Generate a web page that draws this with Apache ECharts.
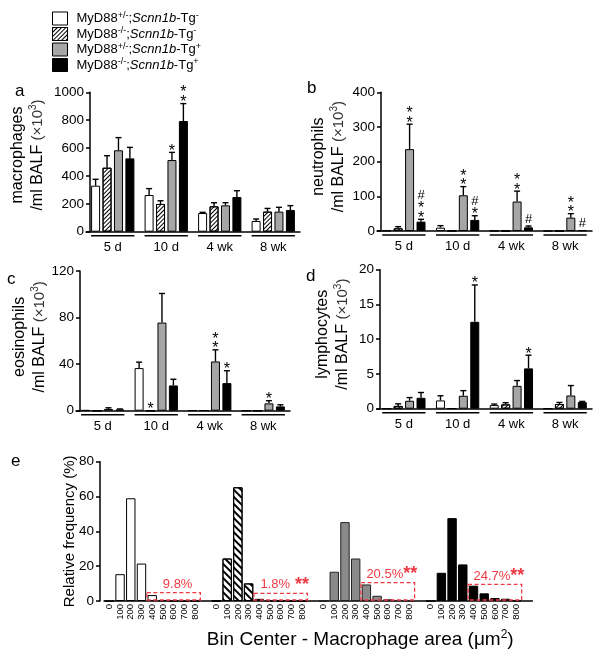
<!DOCTYPE html>
<html><head><meta charset="utf-8">
<script src="https://cdn.jsdelivr.net/npm/echarts@6/dist/echarts.min.js"></script>
<style>html,body{margin:0;padding:0;background:#fff}#c{width:601px;height:656px}</style>
</head><body><div id="c"></div>
<script>
// ---------- data ----------
const genotypes = ['MyD88+/-;Scnn1b-Tg-','MyD88-/-;Scnn1b-Tg-','MyD88+/-;Scnn1b-Tg+','MyD88-/-;Scnn1b-Tg+'];
const timepoints = ['5 d','10 d','4 wk','8 wk'];
// rows = genotype (legend order), columns = timepoint
const macrophagesMean = [[330,263,134,77],[459,199,182,144],[584,514,189,144],[526,794,249,156]];
const macrophagesSem  = [[46,46,5,14],[86,23,26,23],[91,55,19,31],[79,125,45,31]];
const neutrophilsMean = [[1,9.6,0.5,0],[7.7,1,0.5,0],[236,103,85,38.5],[27,32,10.6,2]];
const neutrophilsSem  = [[0,5.8,0,0],[4.8,0,0,0],[72,25,30,11.5],[6.7,12,3.8,0]];
const eosinophilsMean = [[0.5,36.6,0.3,0],[0,0,0.3,0],[1.5,75.7,42.3,6.3],[1,21.7,23.7,3.7]];
const eosinophilsSem  = [[0,5.1,0,0],[0,0,0,0],[1,25,10,2.3],[0.5,5.3,10.6,1.4]];
const lymphocytesMean = [[0,1.19,0.52,0],[0.4,0.05,0.62,0.67],[1.14,1.86,3.29,1.9],[1.57,12.5,5.8,0.95]];
const lymphocytesSem  = [[0,0.67,0.15,0],[0.3,0,0.24,0.23],[0.46,0.74,0.76,1.43],[0.76,5.3,1.9,0.1]];
// significance marks: [timepoint index, genotype index, symbols top-to-bottom]
const macrophagesMarks = [[1,2,'*'],[1,3,'**']];
const neutrophilsMarks = [[0,2,'**'],[0,3,'#**'],[1,2,'**'],[1,3,'#*'],[2,2,'**'],[2,3,'#'],[3,2,'**'],[3,3,'#']];
const eosinophilsMarks = [[1,1,'*'],[2,2,'**'],[2,3,'*'],[3,2,'*']];
const lymphocytesMarks = [[1,3,'*'],[2,3,'*']];
// panel e : relative frequency (%) per bin
const binCenters = ['0','100','200','300','400','500','600','700','800'];
const histMyD88HetTgNeg = [0,15.4,59,21.5,3.4,0.4,0,0,0];
const histMyD88KoTgNeg  = [0,24.4,65.3,10.1,1.2,0.4,0.2,0,0];
const histMyD88HetTgPos = [0,16.8,45.3,24.4,9.5,3.0,1.0,0.4,0.2];
const histMyD88KoTgPos  = [0,16.2,47.6,21,8.8,4.4,1.7,1.3,0.2];
const largeCellPct = ['9.8%','1.8%','20.5%','24.7%'];
const largeCellSig = ['',' **','**','**'];
const largeCellBoxTop = [4.8,4.4,10.5,9.5];

// ---------- styles ----------
const FONT = '"Liberation Sans", Arial, Helvetica, sans-serif';
const RED = '#ee3a43';
const fills = ['#ffffff','#ffffff','#a6a6a6','#000000'];
const fillsE = ['#ffffff','#ffffff','#8a8a8a','#000000'];
const hatchAD = {symbol:'rect', symbolSize:1, dashArrayX:[1,0], dashArrayY:[0.8,1.7], rotation:-Math.PI/4, color:'#000'};
const hatchE  = {symbol:'rect', symbolSize:1, dashArrayX:[1,0], dashArrayY:[1.6,3], rotation:Math.PI/4, color:'#000'};
const BAR_W = 9, BAR_GAP = 0.27, PITCH = BAR_W*(1+BAR_GAP), GROUP_W = 4*BAR_W + 3*BAR_W*BAR_GAP;

const panels = [
  {mean:macrophagesMean, sem:macrophagesSem, marks:macrophagesMarks, max:1000, interval:200, title:'macrophages',
   grid:{left:86, top:92.3, width:214, height:139.4}, offset:-4, nameGap:42, shift:14},
  {mean:neutrophilsMean, sem:neutrophilsSem, marks:neutrophilsMarks, max:400, interval:100, title:'neutrophils',
   grid:{left:377, top:92.3, width:215, height:138.7}, offset:-4, nameGap:32, shift:10},
  {mean:eosinophilsMean, sem:eosinophilsSem, marks:eosinophilsMarks, max:120, interval:40, title:'eosinophils',
   grid:{left:76, top:271, width:214, height:139.7}, offset:-4, nameGap:30, shift:8},
  {mean:lymphocytesMean, sem:lymphocytesSem, marks:lymphocytesMarks, max:20, interval:5, title:'lymphocytes',
   grid:{left:377, top:269.7, width:215, height:139}, offset:-3, nameGap:27, shift:10}
];

const grids = [], xAxes = [], yAxes = [], series = [];
const nameRich = {
  t:{fontSize:16, fontFamily:FONT, color:'#000', lineHeight:20},
  x:{fontSize:15, fontFamily:FONT, color:'#333', lineHeight:20},
  sx:{fontSize:10, fontFamily:FONT, color:'#333', lineHeight:20, verticalAlign:'top', padding:[0,0,8,0]}
};

panels.forEach((P, p) => {
  grids.push(Object.assign({containLabel:false, outerBoundsMode:'none'}, P.grid));
  xAxes.push({gridIndex:p, type:'category', data:timepoints,
    axisTick:{show:false}, axisLine:{lineStyle:{color:'#000', width:1.5}},
    axisLabel:{fontSize:13, color:'#000', margin:9, fontFamily:FONT, interval:0}});
  yAxes.push({gridIndex:p, type:'value', min:0, max:P.max, interval:P.interval, offset:P.offset,
    axisLine:{show:true, lineStyle:{color:'#000', width:1.5}},
    axisTick:{show:true, length:4, lineStyle:{color:'#000', width:1.5}},
    splitLine:{show:false},
    axisLabel:{fontSize:13.5, color:'#000', margin:6, fontFamily:FONT, formatter:v => String(v)},
    name:'{t|' + P.title + '}\n{t|/ml BALF }{x|(×10}{sx|3}{x|)}',
    nameLocation:'middle', nameRotate:90, nameGap:P.nameGap, nameMoveOverlap:false,
    nameTextStyle:{rich:nameRich, padding:[0,0,0,P.shift]}});
  for (let s = 0; s < 4; s++) {
    const st = {color:fills[s], borderColor:'#000', borderWidth:1};
    if (s === 1) st.decal = hatchAD;
    series.push({name:genotypes[s], type:'bar', xAxisIndex:p, yAxisIndex:p, data:P.mean[s],
      barWidth:BAR_W, barGap:(BAR_GAP*100)+'%', itemStyle:st, emphasis:{disabled:true}, z:2});
  }
  // error bars
  const errData = [];
  for (let s = 0; s < 4; s++) for (let g = 0; g < 4; g++) errData.push([g, P.mean[s][g], P.sem[s][g], s]);
  series.push({type:'custom', xAxisIndex:p, yAxisIndex:p, data:errData, z:3, silent:true,
    renderItem:(params, api) => {
      const g = api.value(0), m = api.value(1), e = api.value(2), s = api.value(3);
      if (!(e > 0)) return {type:'group', children:[]};
      const b = api.coord([g, m]), t = api.coord([g, m + e]);
      const x = b[0] + (s - 1.5) * PITCH;
      return {type:'group', children:[
        {type:'line', shape:{x1:x, y1:b[1], x2:x, y2:t[1]}, style:{stroke:'#000', lineWidth:1.4}},
        {type:'line', shape:{x1:x-3, y1:t[1], x2:x+3, y2:t[1]}, style:{stroke:'#000', lineWidth:1.4}}]};
    }});
  // group underlines
  series.push({type:'custom', xAxisIndex:p, yAxisIndex:p, data:timepoints.map((t, i) => [i, 0]), z:3, silent:true,
    renderItem:(params, api) => {
      const c = api.coord([api.value(0), 0]);
      return {type:'line', shape:{x1:c[0]-GROUP_W/2, y1:c[1]+4, x2:c[0]+GROUP_W/2, y2:c[1]+4},
        style:{stroke:'#000', lineWidth:1.5}};
    }});
  // significance marks
  const markData = P.marks.map(m => [m[0], P.mean[m[1]][m[0]] + P.sem[m[1]][m[0]], m[1]]);
  series.push({type:'custom', xAxisIndex:p, yAxisIndex:p, data:markData, z:4, silent:true,
    renderItem:(params, api) => {
      const g = api.value(0), v = api.value(1), s = api.value(2);
      const sym = P.marks[params.dataIndex][2];
      const c = api.coord([g, v]);
      const x = c[0] + (s - 1.5) * PITCH;
      const kids = [];
      let y = c[1] - 5;
      for (let k = sym.length - 1; k >= 0; k--) {
        const ch = sym[k];
        const isStar = ch === '*';
        if (!isStar && k === sym.length - 1) y -= 2;
        kids.push({type:'text', x:x, y:y + (isStar ? 4 : 0),
          style:{text:ch, fontSize:isStar ? 16 : 13, fontFamily:FONT, fill:'#000', align:'center', verticalAlign:'middle'}});
        y -= isStar ? 9.5 : 10;
      }
      return {type:'group', children:kids};
    }});
});

// ---------- panel e ----------
const histAll = [histMyD88HetTgNeg, histMyD88KoTgNeg, histMyD88HetTgPos, histMyD88KoTgPos];
const eCats = [];
for (let g = 0; g < 4; g++) { binCenters.forEach(b => eCats.push('g' + g + '_' + b)); eCats.push('g' + g + '_gap'); }
grids.push({left:104, top:461.7, width:428.4, height:139.3, containLabel:false, outerBoundsMode:'none'});
xAxes.push({gridIndex:4, type:'category', data:eCats,
  axisTick:{show:false}, axisLine:{lineStyle:{color:'#000', width:1.5}},
  axisLabel:{rotate:90, fontSize:9.5, color:'#000', margin:3, interval:0, fontFamily:FONT,
    formatter:(v, i) => { const k = i % 10; return k < 9 ? binCenters[k] : ''; }},
  name:'{n|Bin Center - Macrophage area (μm}{s|2}{n|)}', nameLocation:'middle', nameGap:28, nameMoveOverlap:false,
  nameTextStyle:{padding:[0,0,0,84], rich:{
    n:{fontSize:19, fontFamily:FONT, color:'#000', lineHeight:22},
    s:{fontSize:12, fontFamily:FONT, color:'#000', lineHeight:22, verticalAlign:'top'}}}});
yAxes.push({gridIndex:4, type:'value', min:0, max:80, interval:20, offset:4,
  axisLine:{show:true, lineStyle:{color:'#000', width:1.5}},
  axisTick:{show:true, length:4, lineStyle:{color:'#000', width:1.5}},
  splitLine:{show:false},
  axisLabel:{fontSize:13.5, color:'#000', margin:6, fontFamily:FONT},
  name:'Relative frequency (%)', nameLocation:'middle', nameRotate:90, nameGap:23, nameMoveOverlap:false,
  nameTextStyle:{fontSize:15, fontFamily:FONT, color:'#000'}});
for (let s = 0; s < 4; s++) {
  const data = eCats.map(() => '-');
  histAll[s].forEach((v, k) => { data[s * 10 + k] = v; });
  const st = {color:fillsE[s], borderColor:s === 2 ? '#222' : '#000', borderWidth:1};
  if (s === 1) st.decal = hatchE;
  series.push({name:genotypes[s], type:'bar', xAxisIndex:4, yAxisIndex:4, data:data,
    barWidth:9.4, barGap:'-100%', itemStyle:st, emphasis:{disabled:true}, z:2});
}
series.push({type:'custom', xAxisIndex:4, yAxisIndex:4, z:5, silent:true,
  data:largeCellPct.map((t, g) => [g * 10 + 4, g * 10 + 8, largeCellBoxTop[g]]),
  renderItem:(params, api) => {
    const a = api.coord([api.value(0), api.value(2)]), b = api.coord([api.value(1), 0]);
    const bw = api.size([1, 0])[0];
    const x1 = a[0] - bw / 2, x2 = b[0] + bw / 2;
    const g = params.dataIndex;
    return {type:'group', children:[
      {type:'rect', shape:{x:x1, y:a[1], width:x2 - x1, height:b[1] - a[1] - 1},
        style:{fill:null, stroke:RED, lineWidth:1.3, lineDash:[4, 2.5]}},
      {type:'text', x:(x1 + x2) / 2 + 4, y:a[1] - 0.5,
        style:{text:'{p|' + largeCellPct[g] + '}' + (largeCellSig[g] ? '{s|' + largeCellSig[g] + '}' : ''),
          align:'center', verticalAlign:'bottom',
          rich:{p:{fontSize:13, fontFamily:FONT, fill:RED, color:RED, lineHeight:16},
                s:{fontSize:18, fontWeight:'bold', fontFamily:FONT, fill:RED, color:RED, lineHeight:16}}}}]};
  }});

// ---------- option ----------
const letters = [['a',20,92],['b',312,89],['c',12,280],['d',311,277],['e',16,462]];
const option = {
  animation:false,
  backgroundColor:'#fff',
  textStyle:{fontFamily:FONT},
  legend:{data:genotypes, orient:'vertical', left:52, top:11, padding:0, itemWidth:15, itemHeight:13, itemGap:1, icon:'rect',
    itemStyle:{borderColor:'#000', borderWidth:1},
    formatter:(name) => {
      const my = name.substring(5, name.indexOf(';'));
      const tg = name.slice(-1);
      return '{n|MyD88}{s|' + my + '}{n|;}{i|Scnn1b}{n|-Tg}{s|' + tg + '}';
    },
    textStyle:{padding:[0,0,0,4], rich:{
      n:{fontSize:13, fontFamily:FONT, color:'#000', lineHeight:15},
      i:{fontSize:13, fontFamily:FONT, color:'#000', fontStyle:'italic', lineHeight:15},
      s:{fontSize:9, fontFamily:FONT, color:'#000', lineHeight:15, verticalAlign:'top', padding:[0,0,5,0]}}}},
  grid:grids, xAxis:xAxes, yAxis:yAxes, series:series,
  graphic:letters.map(l => ({type:'text', left:l[1] - 5, top:l[2] - 9,
    style:{text:l[0], fontSize:17, fontFamily:FONT, fill:'#000'}}))
};
const chart = echarts.init(document.getElementById('c'));
chart.setOption(option);
</script></body></html>
